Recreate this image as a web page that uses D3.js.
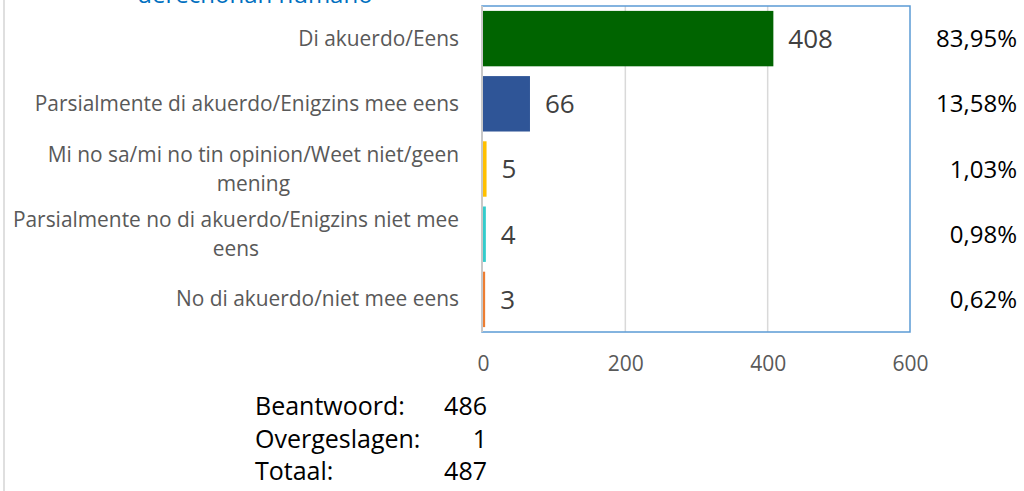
<!DOCTYPE html>
<html>
<head>
<meta charset="utf-8">
<script src="https://cdn.jsdelivr.net/npm/d3@7"></script>
<style>
  html, body { margin: 0; padding: 0; background: #fff; }
  svg { display: block; font-family: "Open Sans", sans-serif; }
</style>
</head>
<body>
<div id="chart"></div>
<script>
// data
var categories = [
  "Di akuerdo/Eens",
  "Parsialmente di akuerdo/Enigzins mee eens",
  "Mi no sa/mi no tin opinion/Weet niet/geen mening",
  "Parsialmente no di akuerdo/Enigzins niet mee eens",
  "No di akuerdo/niet mee eens"
];
var counts = [408, 66, 5, 4, 3];
var percentLabels = ["83,95%", "13,58%", "1,03%", "0,98%", "0,62%"];
var barColors = ["#006400", "#2F5597", "#FFC000", "#33CCCC", "#ED7D31"];
var xTicks = [0, 200, 400, 600];
var summaryLabels = ["Beantwoord:", "Overgeslagen:", "Totaal:"];
var summaryValues = [486, 1, 487];
var titleText = "derechonan humano";

var svgWidth = 1024;
var svgHeight = 491;

var plot = { left: 482, right: 910, top: 6, bottom: 332 };

var svg = d3.select("#chart")
  .append("svg")
  .attr("width", svgWidth)
  .attr("height", svgHeight);

// page edge line on the left
svg.append("line")
  .attr("x1", 4).attr("x2", 4)
  .attr("y1", 0).attr("y2", svgHeight)
  .attr("stroke", "#d4d4d4")
  .attr("stroke-width", 1.5);

// title, cut off at the top like in the source
svg.append("text")
  .attr("x", 255)
  .attr("y", 3)
  .attr("text-anchor", "middle")
  .attr("font-size", 24)
  .attr("fill", "#0070C0")
  .text(titleText);

var x = d3.scaleLinear()
  .domain([0, 600])
  .range([plot.left + 1, plot.right]);

var y = d3.scaleBand()
  .domain(categories)
  .range([plot.top, plot.bottom])
  .paddingInner(0.15)
  .paddingOuter(0.075);

// gridlines
svg.append("g")
  .selectAll("line")
  .data(xTicks.filter(d => d > 0 && d < 600))
  .enter()
  .append("line")
  .attr("x1", d => x(d)).attr("x2", d => x(d))
  .attr("y1", plot.top).attr("y2", plot.bottom)
  .attr("stroke", "#d9d9d9")
  .attr("stroke-width", 1.5);

// plot frame
svg.append("rect")
  .attr("x", plot.left)
  .attr("y", plot.top)
  .attr("width", plot.right - plot.left)
  .attr("height", plot.bottom - plot.top)
  .attr("fill", "none")
  .attr("stroke", "#5B9BD5")
  .attr("stroke-width", 1.5);

svg.append("line")
  .attr("x1", plot.left).attr("x2", plot.left)
  .attr("y1", plot.top).attr("y2", plot.bottom)
  .attr("stroke", "#c8c8c8")
  .attr("stroke-width", 2);

// bars
svg.append("g")
  .selectAll("rect")
  .data(counts)
  .enter()
  .append("rect")
  .attr("x", x(0))
  .attr("y", (d, i) => y(categories[i]))
  .attr("width", d => x(d) - x(0))
  .attr("height", y.bandwidth())
  .attr("fill", (d, i) => barColors[i]);

// value labels
svg.append("g")
  .selectAll("text")
  .data(counts)
  .enter()
  .append("text")
  .attr("x", d => x(d) + 15)
  .attr("y", (d, i) => y(categories[i]) + y.bandwidth() / 2)
  .attr("dy", "0.36em")
  .attr("font-size", 26)
  .attr("fill", "#404040")
  .text(d => d);

// percent column
svg.append("g")
  .selectAll("text")
  .data(percentLabels)
  .enter()
  .append("text")
  .attr("x", 1017)
  .attr("y", (d, i) => y(categories[i]) + y.bandwidth() / 2)
  .attr("dy", "0.36em")
  .attr("text-anchor", "end")
  .attr("font-size", 24)
  .attr("fill", "#000")
  .text(d => d);

// x axis tick labels
var bottomAxis = d3.axisBottom(x)
  .tickValues(xTicks)
  .tickSize(0)
  .tickPadding(0);

var axisG = svg.append("g")
  .attr("transform", `translate(0, ${plot.bottom + 24})`)
  .call(bottomAxis);
axisG.select(".domain").remove();
axisG.selectAll("text")
  .attr("font-family", "Open Sans, sans-serif")
  .attr("font-size", 21)
  .attr("fill", "#595959");

// category labels, wrapped, block right aligned with centered lines
var labelRight = 459;
var lineHeight = 29;
var labelG = svg.append("g")
  .attr("font-size", 20.9)
  .attr("fill", "#595959");

categories.forEach(function(cat, i) {
  var words = cat.split(" ");
  var lines = [];
  var cur = "";
  var probe = labelG.append("text");
  words.forEach(function(w) {
    var test = cur ? cur + " " + w : w;
    probe.text(test);
    if (cur && probe.node().getComputedTextLength() > 470) {
      lines.push(cur);
      cur = w;
    } else {
      cur = test;
    }
  });
  lines.push(cur);
  var widths = lines.map(function(l) {
    probe.text(l);
    return probe.node().getComputedTextLength();
  });
  probe.remove();
  var blockW = d3.max(widths);
  var cx = labelRight - blockW / 2;
  var cy = y(cat) + y.bandwidth() / 2 + 7;
  lines.forEach(function(l, j) {
    labelG.append("text")
      .attr("x", cx)
      .attr("y", cy + (j - (lines.length - 1) / 2) * lineHeight)
      .attr("text-anchor", "middle")
      .text(l);
  });
});

// summary block
var rowY = d3.scalePoint()
  .domain(summaryLabels)
  .range([415, 480]);

var summaryG = svg.append("g")
  .attr("font-size", 25)
  .attr("fill", "#000");

summaryG.selectAll(".slabel")
  .data(summaryLabels)
  .enter()
  .append("text")
  .attr("class", "slabel")
  .attr("x", 255)
  .attr("y", d => rowY(d))
  .text(d => d);

summaryG.selectAll(".svalue")
  .data(summaryValues)
  .enter()
  .append("text")
  .attr("class", "svalue")
  .attr("x", 487)
  .attr("y", (d, i) => rowY(summaryLabels[i]))
  .attr("text-anchor", "end")
  .text(d => d);
</script>
</body>
</html>
